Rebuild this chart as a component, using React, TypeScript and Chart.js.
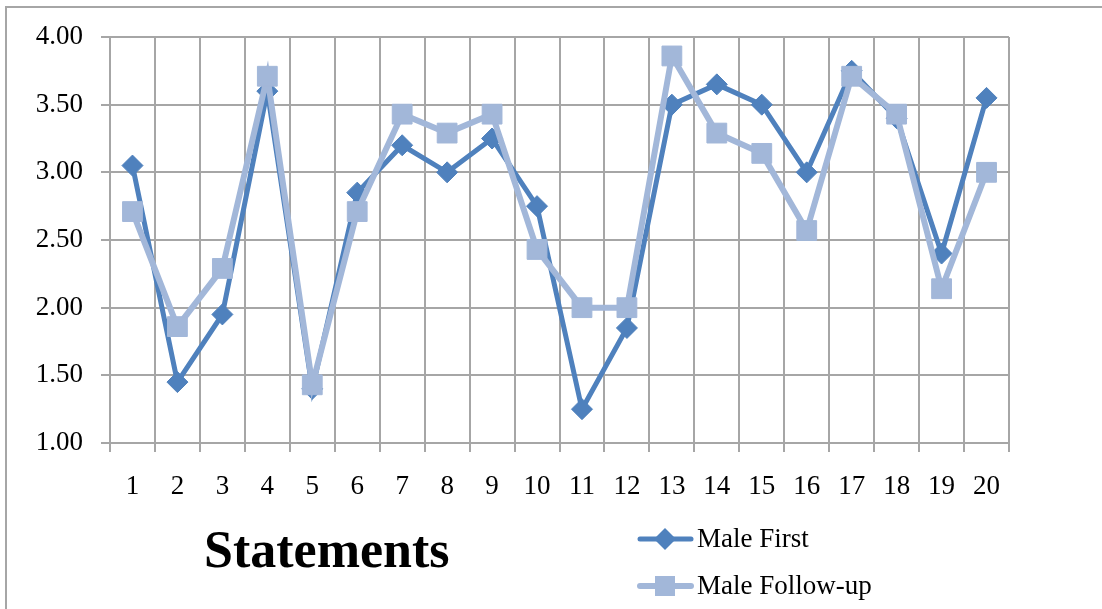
import React, { useEffect, useRef } from "react";
import { Chart, registerables } from "chart.js";

Chart.register(...registerables);

const categories = ["1","2","3","4","5","6","7","8","9","10","11","12","13","14","15","16","17","18","19","20"];
const maleFirst = [3.05,1.45,1.95,3.6,1.4,2.85,3.2,3.0,3.25,2.75,1.25,1.85,3.5,3.65,3.5,3.0,3.75,3.4,2.4,3.55];
const maleFollowUp = [2.71,1.86,2.29,3.71,1.43,2.71,3.43,3.29,3.43,2.43,2.0,2.0,3.86,3.29,3.14,2.57,3.71,3.43,2.14,3.0];
const seriesLabels = ["Male First", "Male Follow-up"];
const axisTitle = "Statements";

const DARK = "#4F81BD";
const LIGHT = "#A2B7D9";
const GRID = "#A6A6A6";
const FONT = "'Liberation Serif', serif";

const framePlugin = {
  id: "frame",
  beforeDraw(chart: any) {
    const ctx = chart.ctx;
    ctx.save();
    ctx.fillStyle = "#ffffff";
    ctx.fillRect(0, 0, chart.width, chart.height);
    ctx.strokeStyle = GRID;
    ctx.lineWidth = 2;
    ctx.strokeRect(6, 7, chart.width + 20, chart.height + 20);
    ctx.restore();
  },
  afterDraw(chart: any) {
    const ctx = chart.ctx;
    ctx.save();
    ctx.fillStyle = "#000";
    ctx.font = `bold 52px ${FONT}`;
    ctx.textBaseline = "alphabetic";
    ctx.textAlign = "left";
    ctx.fillText(axisTitle, 204, 567);
    const rows = [539, 586];
    chart.data.datasets.forEach((ds: any, i: number) => {
      const y = rows[i];
      ctx.strokeStyle = ds.borderColor;
      ctx.lineWidth = ds.borderWidth;
      ctx.lineCap = "round";
      ctx.beginPath();
      ctx.moveTo(640, y);
      ctx.lineTo(691, y);
      ctx.stroke();
      ctx.fillStyle = ds.pointBackgroundColor;
      const cx = 665;
      ctx.beginPath();
      if (ds.pointStyle === "rectRot") {
        const r = 11;
        ctx.moveTo(cx - r, y);
        ctx.lineTo(cx, y - r);
        ctx.lineTo(cx + r, y);
        ctx.lineTo(cx, y + r);
        ctx.closePath();
      } else {
        const s = 10;
        ctx.rect(cx - s, y - s, 2 * s, 2 * s);
      }
      ctx.fill();
      ctx.fillStyle = "#000";
      ctx.font = `27px ${FONT}`;
      ctx.textBaseline = "middle";
      ctx.textAlign = "left";
      ctx.fillText(ds.label, 697, y + 1);
    });
    ctx.restore();
  },
};

export default function App() {
  const ref = useRef<HTMLCanvasElement>(null);
  useEffect(() => {
    document.body.style.margin = "0";
    const chart = new Chart(ref.current!, {
      type: "line",
      data: {
        labels: categories,
        datasets: [
          {
            label: seriesLabels[0],
            data: maleFirst,
            borderColor: DARK,
            backgroundColor: DARK,
            pointBackgroundColor: DARK,
            pointBorderColor: DARK,
            borderWidth: 5,
            pointStyle: "rectRot",
            pointRadius: 10.5,
            pointBorderWidth: 1,
            tension: 0,
            order: 1,
          },
          {
            label: seriesLabels[1],
            data: maleFollowUp,
            borderColor: LIGHT,
            backgroundColor: LIGHT,
            pointBackgroundColor: LIGHT,
            pointBorderColor: LIGHT,
            borderWidth: 6,
            pointStyle: "rect",
            pointRadius: 14,
            pointBorderWidth: 1,
            tension: 0,
            order: 0,
          },
        ] as any,
      },
      options: {
        responsive: false,
        animation: false,
        layout: { padding: { top: 37, right: 93, left: 0, bottom: 0 } },
        plugins: { legend: { display: false }, tooltip: { enabled: false } },
        scales: {
          x: {
            type: "category",
            offset: true,
            afterFit: (s: any) => { s.height = 166; },
            grid: { offset: true, color: GRID, lineWidth: 2, tickLength: 9, drawTicks: true },
            border: { color: GRID, width: 2 },
            ticks: { color: "#000", font: { family: FONT, size: 27 }, padding: 19, maxRotation: 0, autoSkip: false },
          },
          y: {
            min: 1,
            max: 4,
            afterFit: (s: any) => { s.width = 110; },
            grid: { color: GRID, lineWidth: 2, tickLength: 9 },
            border: { color: GRID, width: 2 },
            ticks: {
              stepSize: 0.5,
              color: "#000",
              font: { family: FONT, size: 27 },
              padding: 18,
              callback: (v: any) => Number(v).toFixed(2),
            },
          },
        },
      } as any,
      plugins: [framePlugin],
    });
    return () => chart.destroy();
  }, []);
  return (
    <canvas
      ref={ref}
      width={1102}
      height={609}
      style={{ display: "block", position: "absolute", left: 0, top: 0 }}
    />
  );
}
